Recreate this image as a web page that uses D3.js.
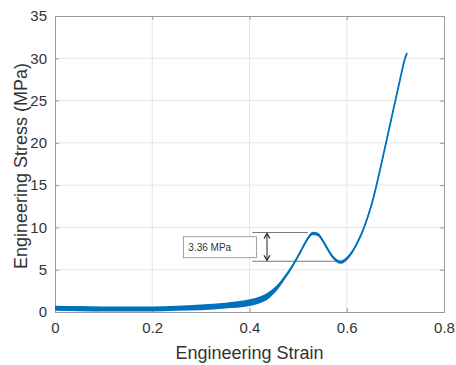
<!DOCTYPE html>
<html>
<head>
<meta charset="utf-8">
<script src="https://cdn.jsdelivr.net/npm/d3@7"></script>
<style>
  body { margin: 0; background: #fff; }
  svg text { font-family: "Liberation Sans", Arial, sans-serif; }
</style>
</head>
<body>
<div id="chart"></div>
<script>
// strain / stress
const strain = [0, 0.05, 0.1, 0.15, 0.2, 0.25, 0.3, 0.35, 0.4, 0.42, 0.44, 0.45, 0.46, 0.47, 0.48, 0.49,
  0.5, 0.51, 0.52, 0.53, 0.54, 0.55, 0.56, 0.57, 0.58, 0.587, 0.6, 0.61, 0.62, 0.63, 0.64, 0.65,
  0.66, 0.67, 0.68, 0.69, 0.7, 0.71, 0.72, 0.724];
const stress = [0.45, 0.4, 0.35, 0.35, 0.35, 0.45, 0.55, 0.75, 1.1, 1.4, 2.0, 2.5, 3.1, 3.9, 4.7, 5.6,
  6.6, 7.7, 8.7, 9.3, 9.2, 8.5, 7.5, 6.6, 6.05, 5.9, 6.3, 7.0, 8.0, 9.2, 10.7, 12.5,
  14.7, 17.2, 19.8, 22.4, 25.0, 27.6, 30.0, 30.6];
// half-thickness of the noisy band (MPa)
const band = [0.3, 0.3, 0.3, 0.3, 0.3, 0.3, 0.35, 0.35, 0.4, 0.4, 0.4, 0.35, 0.3, 0.25, 0.25, 0.2,
  0.2, 0.2, 0.2, 0.2, 0.2, 0.2, 0.2, 0.2, 0.2, 0.2, 0.2, 0.2, 0.2, 0.2, 0.2, 0.2,
  0.2, 0.2, 0.2, 0.2, 0.2, 0.2, 0.2, 0.2];
const xTicks = [0, 0.2, 0.4, 0.6, 0.8];
const yTicks = [0, 5, 10, 15, 20, 25, 30, 35];
const peakStress = 9.4, valleyStress = 6.0, peakStrain = 0.53, valleyStrain = 0.585;
const noteText = "3.36 MPa";

const W = 456, H = 365;
const margin = {top: 16, right: 12, bottom: 53, left: 55};
const width = W - margin.left - margin.right;
const height = H - margin.top - margin.bottom;

const svg = d3.select("#chart").append("svg")
  .attr("width", W).attr("height", H)
  .append("g")
  .attr("transform", `translate(${margin.left}, ${margin.top})`);

const x = d3.scaleLinear().domain([0, 0.8]).range([0, width]);
const y = d3.scaleLinear().domain([0, 35]).range([height, 0]);

// grid
svg.append("g").selectAll("line").data(xTicks.slice(1, -1)).enter().append("line")
  .attr("x1", d => x(d)).attr("x2", d => x(d)).attr("y1", 0).attr("y2", height)
  .attr("stroke", "#e6e6e6");
svg.append("g").selectAll("line").data(yTicks.slice(1, -1)).enter().append("line")
  .attr("y1", d => y(d)).attr("y2", d => y(d)).attr("x1", 0).attr("x2", width)
  .attr("stroke", "#e6e6e6");

// axes
const tickFmt = d => String(d);
svg.append("g").attr("transform", `translate(0, ${height})`)
  .call(d3.axisBottom(x).tickValues(xTicks).tickFormat(tickFmt).tickSizeInner(-4).tickSizeOuter(0).tickPadding(10));
svg.append("g")
  .call(d3.axisLeft(y).tickValues(yTicks).tickFormat(tickFmt).tickSizeInner(-4).tickSizeOuter(0).tickPadding(8));
svg.append("g").attr("transform", `translate(${width}, 0)`)
  .call(d3.axisRight(y).tickValues(yTicks).tickFormat("").tickSizeInner(-4).tickSizeOuter(0));
svg.append("g")
  .call(d3.axisTop(x).tickValues(xTicks).tickFormat("").tickSizeInner(-4).tickSizeOuter(0));
svg.selectAll(".domain").attr("stroke", "#9a9a9a");
svg.selectAll(".tick line").attr("stroke", "#9a9a9a");
svg.selectAll(".tick text").attr("fill", "#333").style("font-size", "15px");

// data band
const pts = strain.map((s, i) => ({s, v: stress[i], b: band[i]}));
svg.append("path").datum(pts)
  .attr("fill", "#0072BD")
  .attr("d", d3.area().x(d => x(d.s)).y0(d => y(d.v - d.b)).y1(d => y(d.v + d.b)).curve(d3.curveMonotoneX));
svg.append("path").datum(pts)
  .attr("fill", "none").attr("stroke", "#0072BD").attr("stroke-width", 1.8)
  .attr("d", d3.line().x(d => x(d.s)).y(d => y(d.v)).curve(d3.curveMonotoneX));

// annotation
const lx0 = x(0.406), ax0 = x(0.436);
svg.append("line").attr("x1", lx0).attr("x2", x(peakStrain - 0.01))
  .attr("y1", y(peakStress)).attr("y2", y(peakStress)).attr("stroke", "#555").attr("stroke-width", 0.8);
svg.append("line").attr("x1", lx0).attr("x2", x(valleyStrain))
  .attr("y1", y(valleyStress)).attr("y2", y(valleyStress)).attr("stroke", "#555").attr("stroke-width", 0.8);
svg.append("line").attr("x1", ax0).attr("x2", ax0)
  .attr("y1", y(peakStress) + 2).attr("y2", y(valleyStress) - 2).attr("stroke", "#222").attr("stroke-width", 1);
svg.append("path").attr("d", `M${ax0 - 3},${y(peakStress) + 6}L${ax0},${y(peakStress) + 1}L${ax0 + 3},${y(peakStress) + 6}`)
  .attr("fill", "none").attr("stroke", "#222").attr("stroke-width", 1.2);
svg.append("path").attr("d", `M${ax0 - 3},${y(valleyStress) - 6}L${ax0},${y(valleyStress) - 1}L${ax0 + 3},${y(valleyStress) - 6}`)
  .attr("fill", "none").attr("stroke", "#222").attr("stroke-width", 1.2);
const bx = x(0.264), by = y(8.9);
svg.append("rect").attr("x", bx).attr("y", by).attr("width", 73).attr("height", 21)
  .attr("fill", "#fff").attr("stroke", "#888").attr("stroke-width", 0.8);
svg.append("text").attr("x", bx + 5).attr("y", by + 14.5)
  .style("font-size", "10px").attr("fill", "#333").text(noteText);

// labels
svg.append("text").attr("x", width / 2).attr("y", height + 47)
  .attr("text-anchor", "middle").style("font-size", "18px").attr("fill", "#333")
  .text("Engineering Strain");
svg.append("text").attr("transform", `translate(${-28}, ${height / 2 + 2}) rotate(-90)`)
  .attr("text-anchor", "middle").style("font-size", "18px").attr("fill", "#333")
  .text("Engineering Stress (MPa)");
</script>
</body>
</html>
